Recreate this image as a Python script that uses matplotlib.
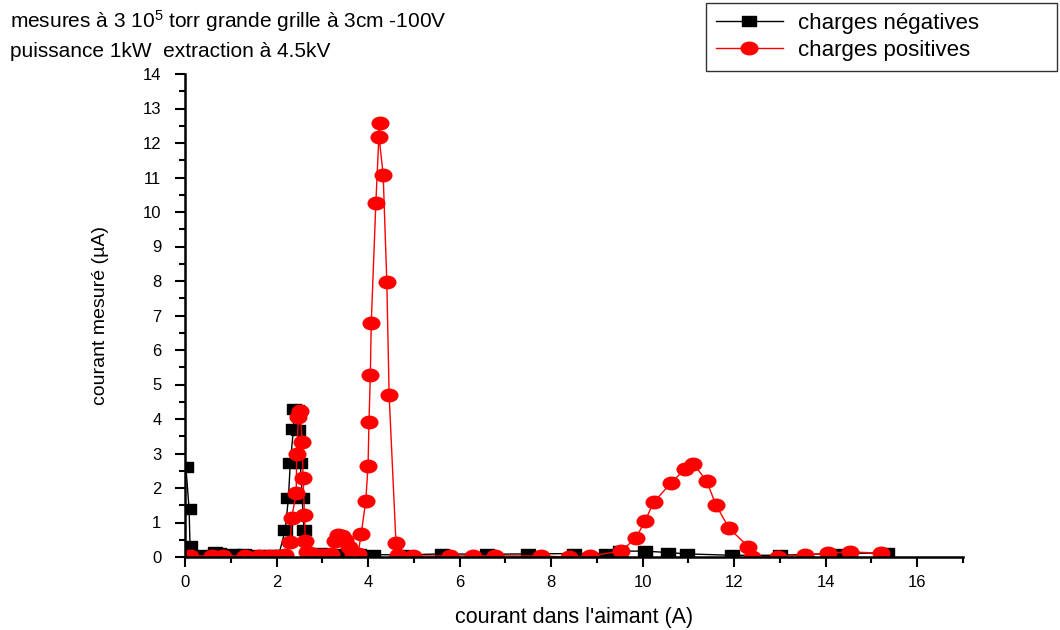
import matplotlib
matplotlib.use("Agg")
import matplotlib.pyplot as plt
import numpy as np
from matplotlib.path import Path
from matplotlib.ticker import MultipleLocator

plt.rcParams['font.family'] = ['Liberation Sans', 'DejaVu Sans']
plt.rcParams['mathtext.fontset'] = 'custom'
plt.rcParams['mathtext.rm'] = 'Liberation Sans'
plt.rcParams['mathtext.it'] = 'Liberation Sans'

# charges négatives (black squares)
neg_x = [0.02, 0.09, 0.11, 0.35, 0.65, 0.75, 1.05, 1.3, 1.6, 1.85, 2.05,
         2.19, 2.26, 2.30, 2.37, 2.38, 2.45, 2.47, 2.52, 2.56, 2.60, 2.70,
         2.95, 3.2, 3.5, 3.8, 4.1, 4.75, 5.62, 6.6, 7.5, 8.5, 9.2, 9.5,
         10.05, 10.55, 10.97, 11.95, 13.0, 14.2, 15.35]
neg_y = [2.6, 1.38, 0.32, 0.05, 0.15, 0.12, 0.08, 0.08, 0.06, 0.07, 0.07,
         0.78, 1.71, 2.72, 3.70, 4.29, 4.25, 3.68, 2.72, 1.71, 0.78, 0.1,
         0.12, 0.1, 0.08, 0.08, 0.07, 0.06, 0.09, 0.08, 0.09, 0.1, 0.1, 0.17,
         0.17, 0.13, 0.09, 0.05, 0.05, 0.1, 0.12]

# charges positives (red circles)
pos_x = [0.1, 0.58, 0.82, 1.31, 1.62, 1.84, 2.0, 2.19, 2.30, 2.33, 2.43,
         2.44, 2.48, 2.52, 2.56, 2.58, 2.61, 2.63, 2.66, 2.8, 3.0, 3.2, 3.28,
         3.35, 3.42, 3.5, 3.58, 3.68, 3.78, 3.85, 3.95, 4.0, 4.02, 4.05,
         4.07, 4.17, 4.25, 4.24, 4.33, 4.41, 4.46, 4.61, 4.65, 4.99, 5.8,
         6.29, 6.78, 7.77, 8.38, 8.86, 9.52, 9.85, 10.05, 10.24, 10.62,
         10.92, 11.11, 11.40, 11.60, 11.89, 12.31, 12.38, 12.96, 13.55,
         14.04, 14.53, 15.21]
pos_y = [0.03, 0.03, 0.03, 0.03, 0.03, 0.03, 0.03, 0.05, 0.43, 1.12, 1.86,
         2.98, 4.07, 4.23, 3.34, 2.30, 1.22, 0.47, 0.14, 0.08, 0.06, 0.1,
         0.45, 0.65, 0.6, 0.5, 0.3, 0.12, 0.08, 0.67, 1.63, 2.65, 3.90,
         5.28, 6.79, 10.25, 12.59, 12.18, 11.08, 7.97, 4.70, 0.41, 0.05,
         0.03, 0.03, 0.03, 0.03, 0.03, 0.0, 0.03, 0.17, 0.54, 1.04, 1.58,
         2.15, 2.54, 2.70, 2.2, 1.51, 0.83, 0.3, 0.0, 0.01, 0.06, 0.11,
         0.15, 0.11]

# slightly wide markers, like the original export
circ = Path.unit_circle()
ellipse = Path(circ.vertices * np.array([1.0, 0.75]), circ.codes)
rect = Path([(-1, -0.78), (1, -0.78), (1, 0.78), (-1, 0.78), (-1, -0.78)],
            [Path.MOVETO, Path.LINETO, Path.LINETO, Path.LINETO, Path.CLOSEPOLY])

fig = plt.figure(figsize=(10.6, 6.3), dpi=100)
ax = fig.add_axes([185 / 1060, 1 - 557 / 630, (963 - 185) / 1060, (557 - 74) / 630])

ax.plot(neg_x, neg_y, color='black', lw=1, marker=rect, ms=9.5,
        mfc='black', mec='black', label='charges négatives')
ax.plot(pos_x, pos_y, color='red', lw=1, marker=ellipse, ms=12,
        mfc='red', mec='red', label='charges positives')

ax.set_xlim(0, 17)
ax.set_ylim(0, 14)
ax.spines['top'].set_visible(False)
ax.spines['right'].set_visible(False)
for s in ('left', 'bottom'):
    ax.spines[s].set_linewidth(1.8)
ax.xaxis.set_major_locator(MultipleLocator(2))
ax.xaxis.set_minor_locator(MultipleLocator(1))
ax.yaxis.set_major_locator(MultipleLocator(1))
ax.yaxis.set_minor_locator(MultipleLocator(0.5))
ax.tick_params(which='major', direction='out', length=7, width=1.5, labelsize=12)
ax.tick_params(which='minor', direction='out', length=4, width=1.5)
ax.tick_params(axis='x', pad=6)
ax.tick_params(axis='y', pad=10)

ax.set_xlabel("courant dans l'aimant (A)", fontsize=15.5, labelpad=12)
ax.set_ylabel("courant mesuré (µA)", fontsize=14, labelpad=24)

fig.text(10 / 1060, 1 - 28 / 630, "mesures à 3 10$^5$ torr grande grille à 3cm -100V",
         fontsize=15, va='baseline', ha='left')
fig.text(10 / 1060, 1 - 57 / 630, "puissance 1kW  extraction à 4.5kV",
         fontsize=15, va='baseline', ha='left')

leg = fig.legend(loc='upper left', mode='expand',
                 bbox_to_anchor=(706 / 1060, 1 - 69 / 630, 351 / 1060, 66 / 630),
                 fontsize=16, frameon=True, fancybox=False, handlelength=3.0,
                 borderpad=0.45, labelspacing=0.28, handletextpad=0.7,
                 borderaxespad=0)
leg.get_frame().set_edgecolor('black')
leg.get_frame().set_linewidth(1)

fig.savefig('out.png', dpi=100)
